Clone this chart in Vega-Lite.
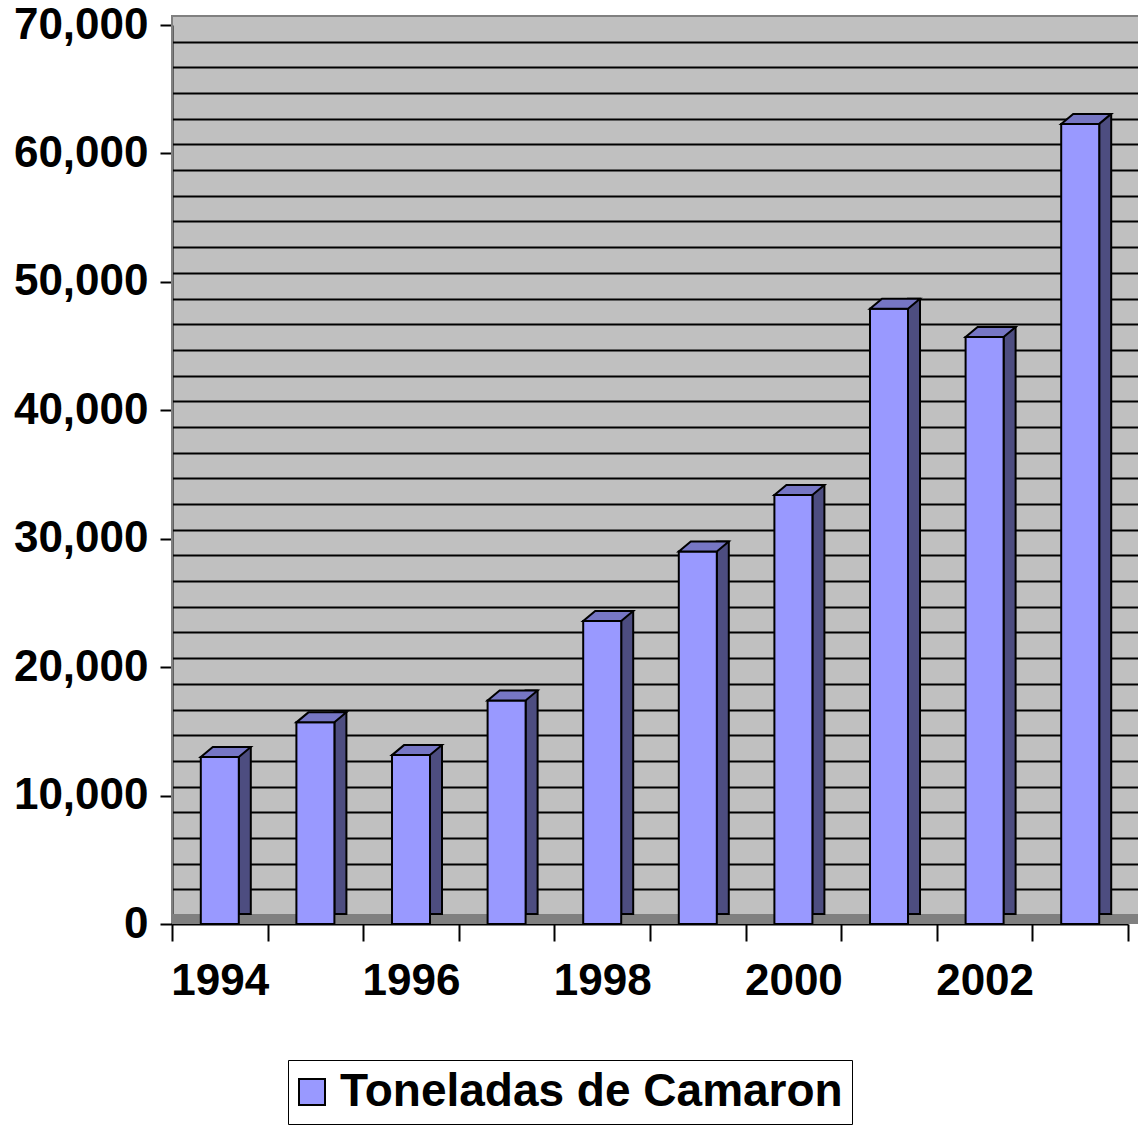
{
  "$schema": "https://vega.github.io/schema/vega-lite/v6.json",
  "width": 966,
  "height": 908,
  "autosize": {"type": "none"},
  "padding": {"left": 172, "top": 16, "right": 0, "bottom": 202},
  "background": "white",
  "config": {"view": {"fill": "#C0C0C0", "stroke": null}, "font": "Liberation Sans"},
  "data": {"values": [
    {"year": 1994, "toneladas": 13000},
    {"year": 1995, "toneladas": 15700},
    {"year": 1996, "toneladas": 13150},
    {"year": 1997, "toneladas": 17400},
    {"year": 1998, "toneladas": 23600},
    {"year": 1999, "toneladas": 29000},
    {"year": 2000, "toneladas": 33400},
    {"year": 2001, "toneladas": 47900},
    {"year": 2002, "toneladas": 45700},
    {"year": 2003, "toneladas": 62300}
  ]},
  "layer": [
    {
      "data": {"values": [{"wall": "back"}]},
      "layer": [
        {
          "mark": {"type": "rect", "fill": "#808080", "xOffset": 6, "x2Offset": -4},
          "encoding": {
            "y": {"datum": -700.8, "type": "quantitative",
                  "scale": {"domain": [-700.8, 70000], "nice": false, "zero": false},
                  "axis": {"orient": "right", "title": null, "labels": false, "ticks": false, "domain": false,
                           "grid": true, "gridColor": "black", "gridWidth": 2, "gridOpacity": 1, "tickCount": 200,
                           "values": [2000, 4000, 6000, 8000, 10000, 12000, 14000, 16000, 18000, 20000, 22000, 24000, 26000, 28000, 30000, 32000, 34000, 36000, 38000, 40000, 42000, 44000, 46000, 48000, 50000, 52000, 54000, 56000, 58000, 60000, 62000, 64000, 66000, 68000]}},
            "y2": {"datum": 0}
          }
        },
        {
          "mark": {"type": "rect", "fillOpacity": 0, "stroke": "#808080", "strokeWidth": 2, "xOffset": 13},
          "encoding": {
            "y": {"datum": 0, "type": "quantitative"},
            "y2": {"datum": 70000}
          }
        }
      ]
    },
    {
      "encoding": {
        "x": {"field": "year", "type": "ordinal",
              "scale": {"range": [0, 956], "paddingInner": 0, "paddingOuter": 0},
              "axis": {"title": null, "labelAngle": 0, "tickBand": "extent",
                       "labelExpr": "datum.value % 2 == 0 ? datum.label : ''",
                       "labelFont": "Liberation Sans", "labelFontSize": 44, "labelFontWeight": "bold", "labelColor": "black",
                       "labelPadding": 18, "tickSize": 17, "tickWidth": 2, "tickColor": "black",
                       "domainColor": "black", "domainWidth": 2, "grid": false}}
      },
      "layer": [
        {
          "mark": {"type": "bar", "width": 12, "xOffset": 25, "yOffset": -10, "fill": "#4D4D80", "stroke": "black", "strokeWidth": 2},
          "encoding": {
            "y": {"field": "toneladas", "type": "quantitative",
                  "scale": {"domain": [0, 70000], "range": [908, 9], "nice": false},
                  "axis": {"orient": "left", "title": null, "values": [0, 10000, 20000, 30000, 40000, 50000, 60000, 70000],
                           "format": ",d", "grid": false,
                           "labelFont": "Liberation Sans", "labelFontSize": 44, "labelFontWeight": "bold", "labelColor": "black",
                           "labelPadding": 12, "tickSize": 12, "tickWidth": 2, "tickColor": "black",
                           "domainColor": "black", "domainWidth": 2}}
          }
        },
        {
          "mark": {"type": "bar", "width": 38, "stroke": "black", "strokeWidth": 2},
          "encoding": {
            "y": {"field": "toneladas", "type": "quantitative"},
            "color": {"datum": "Toneladas de Camaron", "type": "nominal",
                      "scale": {"range": ["#9999FF"]},
                      "legend": {"title": null, "orient": "none", "legendX": 116, "legendY": 1044,
                                 "strokeColor": "black", "padding": 9,
                                 "symbolType": "square", "symbolSize": 676, "symbolStrokeColor": "black", "symbolStrokeWidth": 2,
                                 "symbolOffset": -8,
                                 "labelFont": "Liberation Sans", "labelFontSize": 46, "labelFontWeight": "bold", "labelColor": "black",
                                 "labelOffset": 5, "labelLimit": 0}}
          }
        },
        {
          "mark": {"type": "point", "shape": "M-19,0L19,0L31,-10L-7,-10Z", "size": 4, "filled": true, "opacity": 1,
                   "fill": "#7676C4", "stroke": "black", "strokeWidth": 2},
          "encoding": {
            "y": {"field": "toneladas", "type": "quantitative"}
          }
        }
      ]
    }
  ],
  "resolve": {"scale": {"y": "independent"}, "axis": {"y": "independent"}}
}
